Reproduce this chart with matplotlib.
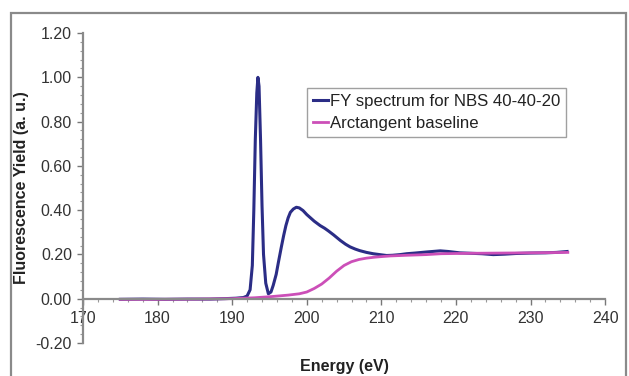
import matplotlib
matplotlib.use("Agg")
import matplotlib.pyplot as plt
from matplotlib.patches import Rectangle
from matplotlib.ticker import MultipleLocator, FormatStrFormatter

plt.rcParams["font.family"] = ["Liberation Sans", "DejaVu Sans"]

# FY spectrum
fy_energy = [175, 178, 181, 184, 187, 189, 190.5, 191.5, 192.0, 192.4, 192.7, 192.9,
             193.1, 193.3, 193.45, 193.6, 193.8, 194.0, 194.2, 194.5, 194.85, 195.2,
             195.5, 195.9, 196.2, 196.6, 196.9, 197.2, 197.5, 197.8, 198.2, 198.6,
             199.0, 199.5, 200.0, 200.4, 201.0, 201.8, 202.4, 202.9, 203.6, 204.5,
             205.2, 205.8, 206.5, 207.1, 208.0, 208.9, 210.0, 210.7, 211.5, 212.5,
             213.4, 214.5, 216.1, 217.9, 219.0, 220.5, 222.0, 223.5, 225.0, 226.5,
             228.0, 230.0, 232.0, 233.5, 234.9]
fy_yield = [-0.003, -0.002, -0.003, -0.002, -0.002, 0.0, 0.002, 0.005, 0.012, 0.04,
            0.15, 0.40, 0.72, 0.93, 1.00, 0.96, 0.72, 0.42, 0.20, 0.07, 0.022, 0.03,
            0.06, 0.11, 0.165, 0.235, 0.285, 0.33, 0.365, 0.39, 0.405, 0.413,
            0.41, 0.398, 0.38, 0.368, 0.35, 0.33, 0.318, 0.306, 0.288, 0.263,
            0.246, 0.234, 0.224, 0.217, 0.209, 0.203, 0.198, 0.195, 0.196, 0.199,
            0.203, 0.206, 0.211, 0.216, 0.213, 0.207, 0.205, 0.203, 0.199, 0.201,
            0.204, 0.206, 0.207, 0.209, 0.213]

# Arctangent baseline
bl_energy = [175, 180, 185, 190, 193, 195.5, 197.5, 199.0, 200.0, 201.0, 202.0,
             203.0, 204.0, 205.0, 206.0, 207.0, 208.0, 209.0, 210.0, 211.2,
             213.4, 216.0, 218.0, 222.0, 226.0, 230.0, 235.0]
bl_yield = [-0.003, -0.003, -0.002, 0.0, 0.004, 0.01, 0.016, 0.022, 0.03, 0.046,
            0.066, 0.093, 0.124, 0.15, 0.167, 0.177, 0.183, 0.187, 0.19, 0.193,
            0.196, 0.199, 0.203, 0.205, 0.206, 0.207, 0.209]

fig = plt.figure(figsize=(6.29, 3.76), dpi=100)
ax = fig.add_axes([0.132, 0.088, 0.830, 0.824])

ax.plot(fy_energy, fy_yield, color="#2b2d86", lw=2.2, label="FY spectrum for NBS 40-40-20")
ax.plot(bl_energy, bl_yield, color="#cc4fb8", lw=2.0, label="Arctangent baseline")

ax.set_xlim(170, 240)
ax.set_ylim(-0.2, 1.2)
ax.xaxis.set_major_locator(MultipleLocator(10))
ax.xaxis.set_minor_locator(MultipleLocator(2))
ax.yaxis.set_major_locator(MultipleLocator(0.2))
ax.yaxis.set_minor_locator(MultipleLocator(0.04))
ax.yaxis.set_major_formatter(FormatStrFormatter("%.2f"))

for s in ("top", "right"):
    ax.spines[s].set_visible(False)
ax.spines["bottom"].set_position(("data", 0))
for s in ("left", "bottom"):
    ax.spines[s].set_color("#8a8a8a")
    ax.spines[s].set_linewidth(1.6)

ax.tick_params(axis="both", which="major", length=4, width=1, color="#777777",
               labelsize=11.5, labelcolor="#333333")
ax.tick_params(axis="both", which="minor", length=2.5, width=0.8, color="#999999")
ax.tick_params(axis="x", which="major", pad=5)
ax.tick_params(axis="y", which="major", pad=4)

ax.set_ylabel("Fluorescence Yield (a. u.)", fontsize=11.5, fontweight="bold",
              color="#222222")
ax.yaxis.set_label_coords(-0.103, 0.5)
ax.set_xlabel("Energy (eV)", fontsize=11.5, fontweight="bold", color="#222222")
ax.xaxis.set_label_coords(0.5, -0.053)

leg = ax.legend(loc="upper left", bbox_to_anchor=(0.429, 0.823), fontsize=12.1,
                frameon=True, fancybox=False, handlelength=0.9, handletextpad=0.1,
                borderpad=0.35, labelspacing=0.45, borderaxespad=0)
leg.get_frame().set_edgecolor("#888888")
leg.get_frame().set_linewidth(1.0)
for t in leg.get_texts():
    t.set_color("#222222")

fig.patches.append(Rectangle((0.0175, -0.02), 0.978, 0.9854, transform=fig.transFigure,
                             fill=False, edgecolor="#8a8a8a", lw=1.6))

fig.savefig("out.png", dpi=100)
